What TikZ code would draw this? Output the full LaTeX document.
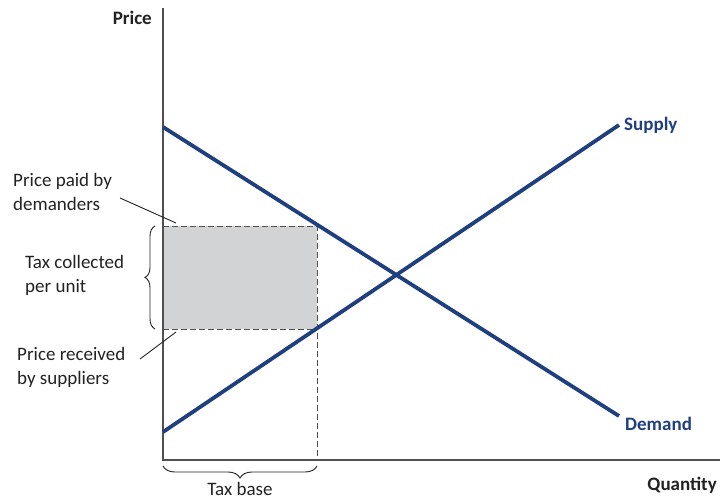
\documentclass[tikz,border=0pt]{standalone}
\usepackage{fontspec}
\setmainfont{Carlito}
\usetikzlibrary{decorations.pathreplacing}
\definecolor{curveblue}{HTML}{1F3F7F}
\definecolor{taxgray}{HTML}{D1D3D4}
\definecolor{axisgray}{HTML}{505050}
\definecolor{txt}{HTML}{222222}
\tikzset{
  curve/.style={draw=curveblue, line width=3.8pt},
  axisline/.style={draw=axisgray, line width=1.3pt},
  dashline/.style={draw=axisgray, line width=0.9pt, dash pattern=on 5.5pt off 3.5pt},
  lbl/.style={text=txt, font=\fontsize{19}{24}\selectfont, align=left, inner sep=0pt},
  axlbl/.style={text=txt, font=\fontsize{19}{24}\selectfont\bfseries, inner sep=0pt},
  curvelbl/.style={text=curveblue, font=\fontsize{19}{24}\selectfont\bfseries, inner sep=0pt},
  leader/.style={draw=txt, line width=0.9pt},
  bracestyle/.style={draw=txt, line width=0.9pt, decorate, decoration={brace, amplitude=#1}}
}
\begin{document}
\begin{tikzpicture}[x=1pt, y=-1pt]
\useasboundingbox (0,0) rectangle (720,499);
% key points
\coordinate (origin) at (163,460);
\coordinate (ytop) at (163,8);
\coordinate (xend) at (720,460);
\coordinate (dstart) at (163,127);
\coordinate (dend) at (619,416);
\coordinate (sstart) at (163,432);
\coordinate (send) at (619,125);
\coordinate (pd) at (317,226);
\coordinate (ps) at (317,329);
\coordinate (pdl) at (163,226);
\coordinate (psl) at (163,329);
\coordinate (qt) at (317,460);
% tax rectangle
\fill[taxgray] (pdl) rectangle (ps);
\draw[dashline] (pdl) -- (pd) -- (qt);
\draw[dashline] (psl) -- (ps);
% axes
\draw[axisline] (ytop) -- (origin) -- (xend);
% curves
\draw[curve] (dstart) -- (dend);
\draw[curve] (sstart) -- (send);
% labels
\node[axlbl, anchor=base east] (price) at (152,24) {Price};
\node[axlbl, anchor=base east] (qty) at (717,490) {Quantity};
\node[curvelbl, anchor=base west] (supply) at (624,130) {Supply};
\node[curvelbl, anchor=base west] (demand) at (625,430) {Demand};
\node[lbl, anchor=north west] (paid) at (13,173) {Price paid by\\demanders};
\node[lbl, anchor=north west] (tax) at (25,255) {Tax collected\\per unit};
\node[lbl, anchor=north west] (recv) at (17,347) {Price received\\by suppliers};
\node[lbl, anchor=base] (base) at (240,495) {Tax base};
% leader lines
\coordinate (paidend) at (176,223);
\coordinate (paidstart) at (120,198);
\coordinate (recvend) at (176,332);
\coordinate (recvstart) at (140,359);
\draw[leader] (paidstart) -- (paidend);
\draw[leader] (recvstart) -- (recvend);
% braces
\coordinate (lb1) at (155,329);
\coordinate (lb2) at (155,226);
\draw[bracestyle=10pt] (lb1) -- (lb2);
\coordinate (bb1) at (317,466);
\coordinate (bb2) at (163,466);
\draw[bracestyle=12pt] (bb1) -- (bb2);
\end{tikzpicture}
\end{document}
